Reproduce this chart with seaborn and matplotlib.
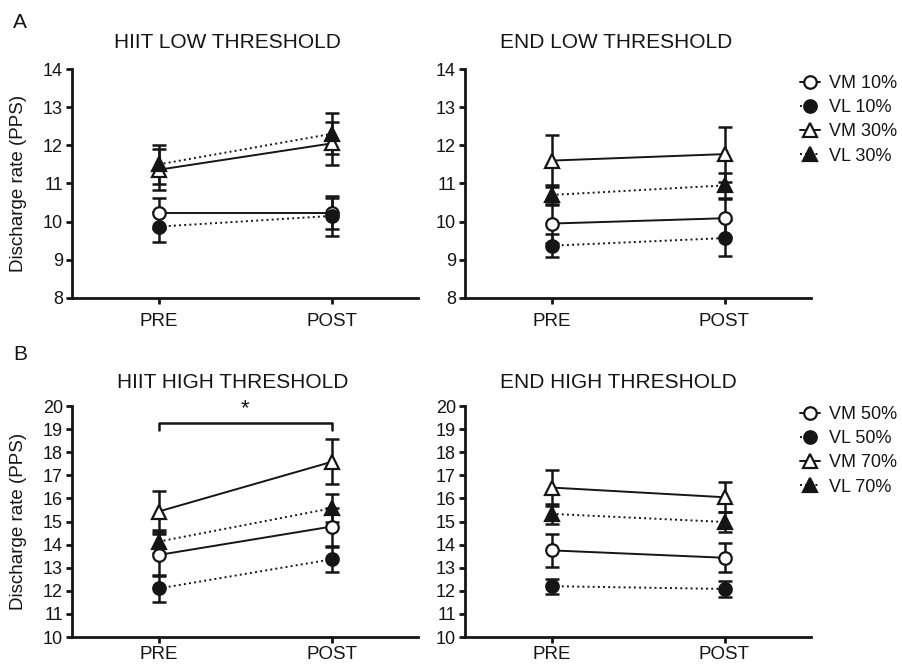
import matplotlib
matplotlib.use("Agg")
import matplotlib.pyplot as plt
import pandas as pd
import seaborn as sns

times = ["PRE", "POST"]

labels_low = ["VM 10%", "VL 10%", "VM 30%", "VL 30%"]
labels_high = ["VM 50%", "VL 50%", "VM 70%", "VL 70%"]

# mean and SEM per series, [PRE, POST]
hiit_low_mean = [[10.22, 10.22], [9.87, 10.15], [11.36, 12.05], [11.50, 12.30]]
hiit_low_sem = [[0.40, 0.40], [0.39, 0.53], [0.54, 0.56], [0.51, 0.54]]

end_low_mean = [[9.95, 10.09], [9.37, 9.57], [11.60, 11.77], [10.70, 10.95]]
end_low_sem = [[0.50, 0.50], [0.30, 0.47], [0.68, 0.72], [0.27, 0.33]]

hiit_high_mean = [[13.55, 14.78], [12.10, 13.36], [15.43, 17.58], [14.13, 15.57]]
hiit_high_sem = [[0.90, 0.82], [0.58, 0.55], [0.90, 0.97], [0.50, 0.60]]

end_high_mean = [[13.75, 13.43], [12.20, 12.08], [16.47, 16.05], [15.33, 14.98]]
end_high_sem = [[0.72, 0.63], [0.32, 0.33], [0.78, 0.65], [0.43, 0.45]]

# significance bracket on HIIT high threshold (PRE vs POST)
sig_top = 19.25
sig_drop = 0.3

ink = "#151515"
sns.set_style("ticks")
plt.rcParams["font.family"] = ["Liberation Sans", "DejaVu Sans"]
plt.rcParams["text.color"] = ink
plt.rcParams["axes.labelcolor"] = ink
plt.rcParams["xtick.color"] = ink
plt.rcParams["ytick.color"] = ink

# style per series position: VM solid/open, VL dotted/filled
line_styles = ["-", ":", "-", ":"]
markers = ["o", "o", "^", "^"]
faces = ["white", ink, "white", ink]
msizes = [9, 9, 10, 10]


def draw_panel(ax, means, sems, labels, ylim, xpad):
    for i, lab in enumerate(labels):
        ax.errorbar(times, means[i], yerr=sems[i], fmt="none", ecolor=ink,
                    elinewidth=1.8, capsize=5, capthick=1.8, zorder=2)
    for i, lab in enumerate(labels):
        df = pd.DataFrame({"time": times, "rate": means[i]})
        sns.lineplot(data=df, x="time", y="rate", ax=ax, sort=False, legend=False,
                     color=ink, lw=1.4, ls=line_styles[i], marker=markers[i],
                     markersize=msizes[i], markerfacecolor=faces[i],
                     markeredgecolor=ink, markeredgewidth=1.6, label=lab, zorder=3)
    ax.set_xlim(-0.5, 1.5)
    ax.set_ylim(*ylim)
    ax.set_yticks(range(ylim[0], ylim[1] + 1))
    ax.set_xlabel("")
    ax.set_ylabel("")
    sns.despine(ax=ax)
    for s in ["left", "bottom"]:
        ax.spines[s].set_linewidth(2.0)
        ax.spines[s].set_color(ink)
    ax.tick_params(axis="both", width=2.0, length=4.5)
    ax.tick_params(axis="y", labelsize=13, pad=2)
    ax.tick_params(axis="x", labelsize=13.5, pad=xpad)


fig = plt.figure(figsize=(9.02, 6.64), dpi=100)
W, H = 902, 664


def px_axes(left, top, right, bottom):
    return fig.add_axes([left / W, 1 - bottom / H, (right - left) / W, (bottom - top) / H])


ax_tl = px_axes(72, 69, 418, 298)
ax_tr = px_axes(465, 69, 811, 298)
ax_bl = px_axes(72, 406, 418, 637)
ax_br = px_axes(465, 406, 811, 637)

draw_panel(ax_tl, hiit_low_mean, hiit_low_sem, labels_low, (8, 14), 6)
draw_panel(ax_tr, end_low_mean, end_low_sem, labels_low, (8, 14), 6)
draw_panel(ax_bl, hiit_high_mean, hiit_high_sem, labels_high, (10, 20), 2)
draw_panel(ax_br, end_high_mean, end_high_sem, labels_high, (10, 20), 2)

for ax in (ax_tl, ax_bl):
    ax.set_ylabel("Discharge rate (PPS)", fontsize=13.5)
    ax.yaxis.set_label_coords(-0.13, 0.5)

# bracket + asterisk
ax_bl.plot(["PRE", "PRE", "POST", "POST"],
           [sig_top - sig_drop, sig_top, sig_top, sig_top - sig_drop],
           color=ink, lw=1.8, clip_on=False, zorder=4)
ax_bl.text(0.5, sig_top + 0.2, "*", ha="center", va="bottom", fontsize=16,
           clip_on=False)

for ax, top in ((ax_tr, 75), (ax_br, 406)):
    ax.legend(loc="upper left", bbox_to_anchor=(800 / W, 1 - top / H),
              bbox_transform=fig.transFigure, frameon=False, fontsize=13,
              handlelength=1.1, handletextpad=0.5, labelspacing=0.4,
              borderpad=0, borderaxespad=0, numpoints=1)

# panel titles
fig.text(227 / W, 1 - 42 / H, "HIIT LOW THRESHOLD", ha="center", va="center", fontsize=15)
fig.text(616 / W, 1 - 42 / H, "END LOW THRESHOLD", ha="center", va="center", fontsize=15)
fig.text(233 / W, 1 - 382 / H, "HIIT HIGH THRESHOLD", ha="center", va="center", fontsize=15)
fig.text(618 / W, 1 - 382 / H, "END HIGH THRESHOLD", ha="center", va="center", fontsize=15)
fig.text(20 / W, 1 - 22 / H, "A", ha="center", va="center", fontsize=15)
fig.text(20 / W, 1 - 355 / H, "B", ha="center", va="center", fontsize=15)

fig.savefig("out.png", dpi=100)
